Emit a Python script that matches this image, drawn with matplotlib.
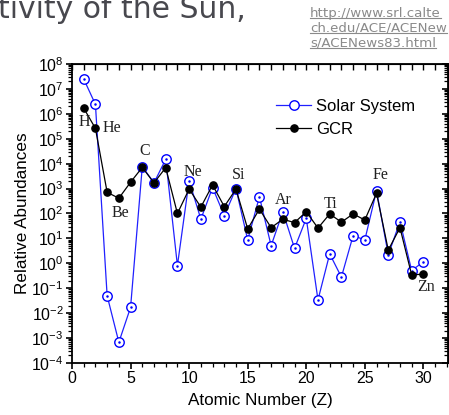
import numpy as np
import matplotlib.pyplot as plt
from matplotlib.lines import Line2D
from matplotlib.ticker import LogLocator, MultipleLocator, NullFormatter

plt.rcParams['font.family'] = ['Liberation Sans', 'DejaVu Sans']
plt.rcParams['mathtext.fontset'] = 'custom'
plt.rcParams['mathtext.rm'] = 'Liberation Sans'
plt.rcParams['mathtext.it'] = 'Liberation Sans'
plt.rcParams['mathtext.default'] = 'regular'

#%% Data:

Z = np.arange(1, 31)

solar = [2.5e7, 2.4e6, 5.0e-2, 6.8e-4, 1.7e-2, 7.6e3, 1.7e3, 1.5e4, 0.81, 2.1e3,
         59, 1.1e3, 82, 1.0e3, 8.7, 4.7e2, 5.1, 118, 4.0, 64,
         0.034, 2.4, 0.28, 13, 8.7, 8.3e2, 2.2, 47, 0.51, 1.17]

gcr = [1.7e6, 2.6e5, 7.1e2, 4.1e2, 1.8e3, 7.1e3, 1.7e3, 6.9e3, 100, 9.6e2,
       180, 1.4e3, 190, 9.6e2, 24, 150, 27, 59, 43, 118,
       26, 96, 45, 96, 55, 6.5e2, 3.4, 27, 0.34, 0.37]

# element labels: name, x, y
elem_names = ['H', 'He', 'Be', 'C', 'Ne', 'Si', 'Ar', 'Ti', 'Fe', 'Zn']
elem_x = [1.03, 3.4, 4.16, 6.24, 10.3, 14.2, 18.0, 22.05, 26.3, 30.2]
elem_y = [10**5.67, 10**5.43, 10**2.01, 10**4.52, 10**3.68, 10**3.53,
          10**2.54, 10**2.37, 10**3.55, 10**-0.94]

x_ticks = [0, 5, 10, 15, 20, 25, 30]

#%% Figure:

fig = plt.figure(figsize=(4.49, 4.15), dpi=100)
ax = fig.add_axes([72/449, 1 - 363/415, 376/449, 299/415])

ax.plot(Z, solar, '-', color='#2020ff', lw=0.9, marker='o', ms=6.8,
        mfc='white', mec='#0000ff', mew=1.0, label='Solar System', zorder=2)
ax.plot(Z, solar, 'o', color='#0000ff', ms=0.8, zorder=2)
ax.plot(Z, gcr, '-', color='black', lw=0.9, marker='o', ms=5.2,
        mfc='black', mec='black', label='GCR', zorder=3)

for name, xx, yy in zip(elem_names, elem_x, elem_y):
    ax.text(xx, yy, name, family='Liberation Serif', fontsize=11.5,
            ha='center', va='center', color='#202020')

ax.set_yscale('log')
ax.set_ylim(1e-4, 1e8)
ax.set_xlim(0, 32.1)
ax.set_xticks(x_ticks)
ax.xaxis.set_minor_locator(MultipleLocator(1))
ax.yaxis.set_major_locator(LogLocator(base=10, numticks=20))
ax.yaxis.set_minor_locator(LogLocator(base=10, subs=np.arange(2, 10), numticks=20))
ax.yaxis.set_minor_formatter(NullFormatter())

ax.tick_params(which='major', direction='out', length=4, width=1.2,
               labelsize=11.5, pad=2)
ax.tick_params(which='minor', direction='out', length=3, width=0.9)
for sp in ax.spines.values():
    sp.set_linewidth(1.3)

# mirrored ticks on top and right, pointing in
top = ax.secondary_xaxis('top')
top.set_xticks(x_ticks)
top.xaxis.set_minor_locator(MultipleLocator(1))
top.tick_params(which='both', direction='in', labeltop=False, length=4, width=1.0)
right = ax.secondary_yaxis('right')
right.set_yscale('log')
right.yaxis.set_major_locator(LogLocator(base=10, numticks=20))
right.yaxis.set_minor_locator(LogLocator(base=10, subs=np.arange(2, 10), numticks=20))
right.tick_params(which='major', direction='in', labelright=False, length=4, width=1.2)
right.tick_params(which='minor', direction='in', labelright=False, length=3, width=0.9)

ax.set_xlabel('Atomic Number (Z)', fontsize=12.3, labelpad=5)
ax.set_ylabel('Relative Abundances', fontsize=12.3, labelpad=1)

ax.legend(loc='upper left', bbox_to_anchor=(0.525, 0.905), frameon=False,
          fontsize=12, handlelength=2.1, handletextpad=0.3,
          labelspacing=0.45, borderaxespad=0)

#%% Page text around the chart:

fig.text(-0.004, 1 - 18/415, 'tivity of the Sun,', fontsize=21.5, color='#48484e',
         family='DejaVu Sans', ha='left', va='baseline')

url_lines = ['http://www.srl.calte', 'ch.edu/ACE/ACENew', 's/ACENews83.html']
url_texts = []
for i, line in enumerate(url_lines):
    t = fig.text(310/449, 1 - (16.5 + 15*i)/415, line, fontsize=9.6,
                 color='#8a8a8a', family='DejaVu Sans', ha='left', va='baseline')
    url_texts.append(t)

# underline the link lines
fig.canvas.draw()
rend = fig.canvas.get_renderer()
for t in url_texts:
    bb = t.get_window_extent(rend).transformed(fig.transFigure.inverted())
    _, yb = t.get_position()
    fig.add_artist(Line2D([bb.x0, bb.x1], [yb - 1.8/415, yb - 1.8/415],
                          color='#8a8a8a', lw=0.8))

fig.savefig('out.png', dpi=100)
